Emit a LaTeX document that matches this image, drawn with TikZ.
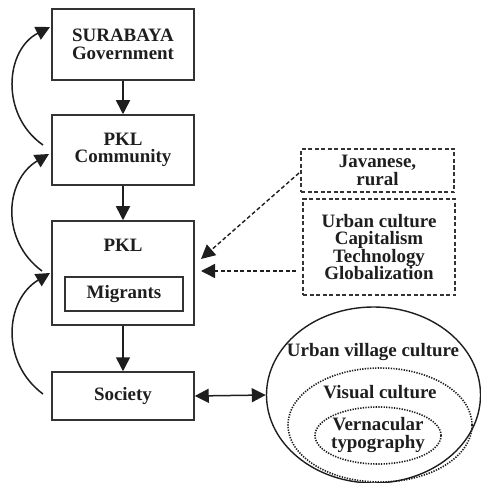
\documentclass[tikz,border=0pt]{standalone}
\usepackage{fontspec}
\setmainfont{Liberation Serif}
\usetikzlibrary{arrows.meta,shapes.geometric}
\definecolor{ink}{HTML}{1E1E1E}
\definecolor{boxline}{HTML}{333333}
\tikzset{
  every node/.style={font=\bfseries\fontsize{19}{17.5}\selectfont, text=ink, align=center, inner sep=0pt},
  box/.style={draw=boxline, line width=1.5bp, rectangle},
  dbox/.style={draw=boxline, line width=1.5bp, rectangle, dash pattern=on 4bp off 2.5bp},
  arr/.style={draw=ink, line width=1.5bp, -{Triangle[length=14bp,width=14bp]}},
  darr/.style={draw=ink, line width=1.4bp, dash pattern=on 4bp off 2.5bp, -{Triangle[length=14bp,width=14bp]}},
  dblarr/.style={draw=ink, line width=1.5bp, {Triangle[length=14bp,width=14bp]}-{Triangle[length=14bp,width=14bp]}},
  oval/.style={ellipse, inner sep=0pt, line width=1.4bp},
  dots/.style={dash pattern=on 1.3bp off 1.3bp, line width=1.6bp},
}
\begin{document}
\begin{tikzpicture}[x=1bp,y=-1bp]
\useasboundingbox (0,0) rectangle (481,483);
% left column boxes
\node[box, minimum width=142bp, minimum height=71bp] (gov) at (123,44.5) {SURABAYA\\Government};
\node[box, minimum width=142bp, minimum height=70bp] (comm) at (123,150) {PKL\\Community};
\node[box, minimum width=142bp, minimum height=104bp] (pkl) at (123,273) {};
\node (pkllab) at (123,245) {PKL};
\node[box, minimum width=118bp, minimum height=34bp] (mig) at (124,294) {Migrants};
\node[box, minimum width=142bp, minimum height=48bp] (soc) at (123,396) {Society};
% dashed boxes
\node[dbox, minimum width=153bp, minimum height=43bp] (jav) at (377.5,170.5) {Javanese,\\rural};
\node[dbox, minimum width=152bp, minimum height=96bp] (urb) at (379,247) {Urban culture\\Capitalism\\Technology\\Globalization};
% ellipses
\node[oval, draw=ink, minimum width=214bp, minimum height=176bp] (outer) at (373.5,395) {};
\node[oval, draw=ink, dots, minimum width=184bp, minimum height=114bp] (mid) at (380,425) {};
\node[oval, draw=ink, dots, minimum width=126bp, minimum height=57bp] (inner) at (378,435.5) {};
\node (l1) at (373,352) {Urban village culture};
\node (l2) at (380,392) {Visual culture};
\node (l3) at (378,435) {Vernacular\\typography};
% vertical arrows
\draw[arr] (gov) -- (comm);
\draw[arr] (comm) -- (pkl);
\draw[arr] (pkl) -- (soc);
% curved feedback arrows
\coordinate (s1) at (43,145);
\coordinate (e1) at (50,27);
\coordinate (s2) at (42,271);
\coordinate (e2) at (49,154);
\coordinate (s3) at (43,394);
\coordinate (e3) at (50,273);
\draw[arr] (s1) .. controls (0,115) and (5,50) .. (e1);
\draw[arr] (s2) .. controls (0,240) and (5,180) .. (e2);
\draw[arr] (s3) .. controls (0,362) and (5,300) .. (e3);
% dashed influence arrows
\coordinate (js) at (299,173);
\coordinate (pt1) at (201,259);
\coordinate (us) at (296,271);
\coordinate (pt2) at (201,271);
\draw[darr] (js) -- (pt1);
\draw[darr] (us) -- (pt2);
% double arrow
\draw[dblarr] (soc.east) -- (outer.west);
\end{tikzpicture}
\end{document}
